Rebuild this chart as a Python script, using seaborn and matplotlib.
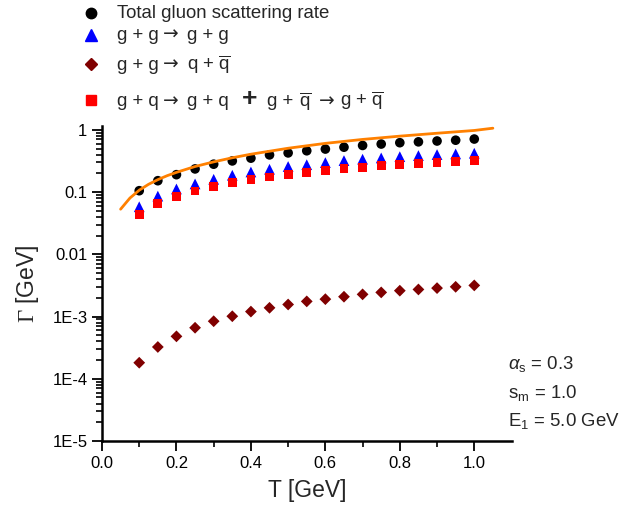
import numpy as np
import pandas as pd
import matplotlib
matplotlib.use("Agg")
import matplotlib.pyplot as plt
from matplotlib.lines import Line2D
import seaborn as sns

# ---- data ----
T = [0.10, 0.15, 0.20, 0.25, 0.30, 0.35, 0.40, 0.45, 0.50, 0.55,
     0.60, 0.65, 0.70, 0.75, 0.80, 0.85, 0.90, 0.95, 1.00]
total = [0.105, 0.152, 0.19, 0.235, 0.28, 0.316, 0.35, 0.395, 0.425, 0.46,
         0.49, 0.525, 0.56, 0.59, 0.62, 0.64, 0.66, 0.68, 0.71]
gg_gg = [0.058, 0.086, 0.112, 0.135, 0.16, 0.186, 0.21, 0.232, 0.257, 0.275,
         0.297, 0.32, 0.337, 0.353, 0.37, 0.385, 0.40, 0.41, 0.42]
gg_qq = [1.81e-4, 3.24e-4, 4.8e-4, 6.6e-4, 8.4e-4, 1.01e-3, 1.2e-3, 1.38e-3, 1.56e-3, 1.75e-3,
         1.9e-3, 2.08e-3, 2.27e-3, 2.44e-3, 2.6e-3, 2.72e-3, 2.86e-3, 3.0e-3, 3.16e-3]
gq_gq = [0.044, 0.066, 0.084, 0.104, 0.122, 0.141, 0.158, 0.175, 0.193, 0.207,
         0.22, 0.238, 0.25, 0.263, 0.275, 0.29, 0.30, 0.313, 0.32]
line_T = [0.05, 0.075, 0.10, 0.125, 0.15, 0.175, 0.20, 0.25, 0.30, 0.35, 0.40,
          0.50, 0.60, 0.70, 0.80, 0.90, 1.00, 1.05]
line_G = [0.053, 0.080, 0.107, 0.133, 0.158, 0.183, 0.207, 0.257, 0.305, 0.355, 0.405,
          0.505, 0.605, 0.70, 0.79, 0.88, 0.975, 1.06]

x_ticks = [0.0, 0.2, 0.4, 0.6, 0.8, 1.0]
x_ticklabels = ["0.0", "0.2", "0.4", "0.6", "0.8", "1.0"]
y_ticks = [1e-5, 1e-4, 1e-3, 1e-2, 1e-1, 1]
y_ticklabels = ["1E-5", "1E-4", "1E-3", "0.01", "0.1", "1"]

sns.set_theme(style="ticks")
plt.rcParams["font.family"] = ["Liberation Sans", "DejaVu Sans"]
plt.rcParams["mathtext.fontset"] = "custom"
plt.rcParams["mathtext.rm"] = "Liberation Serif"
plt.rcParams["mathtext.sf"] = "Liberation Sans"
plt.rcParams["mathtext.it"] = "Liberation Sans:italic"

W, H = 621, 512
fig = plt.figure(figsize=(W / 100, H / 100), dpi=100)
ax = fig.add_axes([102 / W, 1 - 441 / H, (511.5 - 102) / W, (441 - 126) / H])

sns.scatterplot(x=T, y=total, marker="o", color="black", s=48, edgecolor="none", ax=ax, zorder=3)
sns.scatterplot(x=T, y=gg_gg, marker="^", color="#0000ff", s=60, edgecolor="none", ax=ax, zorder=3)
sns.scatterplot(x=T, y=gg_qq, marker="D", color="#800000", s=36, edgecolor="none", ax=ax, zorder=3)
sns.scatterplot(x=T, y=gq_gq, marker="s", color="#ff0000", s=40, edgecolor="none", ax=ax, zorder=4)
sns.lineplot(x=line_T, y=line_G, color="#ff8000", lw=2, ax=ax, zorder=5)

ax.set_yscale("log")
ax.set_xlim(0, 1.1)
ax.set_ylim(1e-5, 1.15)
ax.set_xticks(x_ticks)
ax.set_xticklabels(x_ticklabels)
ax.set_xticks(np.arange(0.1, 1.1, 0.2), minor=True)
ax.set_yticks(y_ticks)
ax.set_yticklabels(y_ticklabels)
ax.yaxis.set_minor_locator(matplotlib.ticker.LogLocator(base=10, subs=np.arange(2, 10)))
ax.yaxis.set_minor_formatter(matplotlib.ticker.NullFormatter())
ax.tick_params(which="major", direction="out", length=7, width=1.3, labelsize=12, color="black", labelcolor="black")
ax.tick_params(which="minor", direction="out", length=4, width=1.2, color="black")
for s in ["top", "right"]:
    ax.spines[s].set_visible(False)
for s in ["left", "bottom"]:
    ax.spines[s].set_linewidth(1.8)
    ax.spines[s].set_color("black")
ax.set_xlabel("T [GeV]", fontsize=16.5, labelpad=6)
ax.set_ylabel(r"$\Gamma$ [GeV]", fontsize=16.5, labelpad=8)

# ---- legend (manual) ----
def fy(y):
    return 1 - y / H

mk_x = 91 / W
fs = 13.4
fig.add_artist(Line2D([mk_x], [fy(12.5)], marker="o", color="black", markersize=7.5, ls="none", transform=fig.transFigure))
fig.add_artist(Line2D([mk_x], [fy(34.5)], marker="^", color="#0000ff", markersize=8, ls="none", transform=fig.transFigure))
fig.add_artist(Line2D([mk_x], [fy(63.5)], marker="D", color="#800000", markersize=6, ls="none", transform=fig.transFigure))
fig.add_artist(Line2D([mk_x], [fy(99.5)], marker="s", color="#ff0000", markersize=6.5, ls="none", transform=fig.transFigure))

qbar = r"$\overline{\mathsf{q}}$"

def put(xp, yp, s, dejavu=False, **kw):
    fam = ["DejaVu Sans"] if dejavu else ["Liberation Sans", "DejaVu Sans"]
    fig.text(xp / W, fy(yp), s, fontsize=kw.pop("fontsize", fs), va="baseline", ha="left", family=fam, **kw)

put(117, 18.5, "Total gluon scattering rate")
# row 2
put(117, 40, "g + g")
put(163, 40, "\u2192", dejavu=True)
put(187, 40, "g + g")
# row 3
put(117, 69.5, "g + g")
put(163, 69.5, "\u2192", dejavu=True)
put(187, 69.5, "q + " + qbar)
# row 4
put(117, 106.5, "g + q")
put(163, 106.5, "\u2192", dejavu=True)
put(187, 106.5, "g + q")
fig.text(250 / W, fy(99), "+", fontsize=19, va="center", ha="center", fontweight="bold")
put(267, 106.5, "g +")
put(299, 106.5, qbar)
put(319, 106.5, "\u2192", dejavu=True)
put(340, 106.5, "g + " + qbar)

# ---- annotation ----
fig.text(508 / W, fy(364), r"$\alpha_{\mathsf{s}}$ = 0.3", fontsize=fs, va="center", ha="left")
fig.text(508 / W, fy(393), r"s$_{\mathsf{m}}$ = 1.0", fontsize=fs, va="center", ha="left")
fig.text(508 / W, fy(421), r"E$_{\mathsf{1}}$ = 5.0 GeV", fontsize=fs, va="center", ha="left")

fig.savefig("out.png", dpi=100)
